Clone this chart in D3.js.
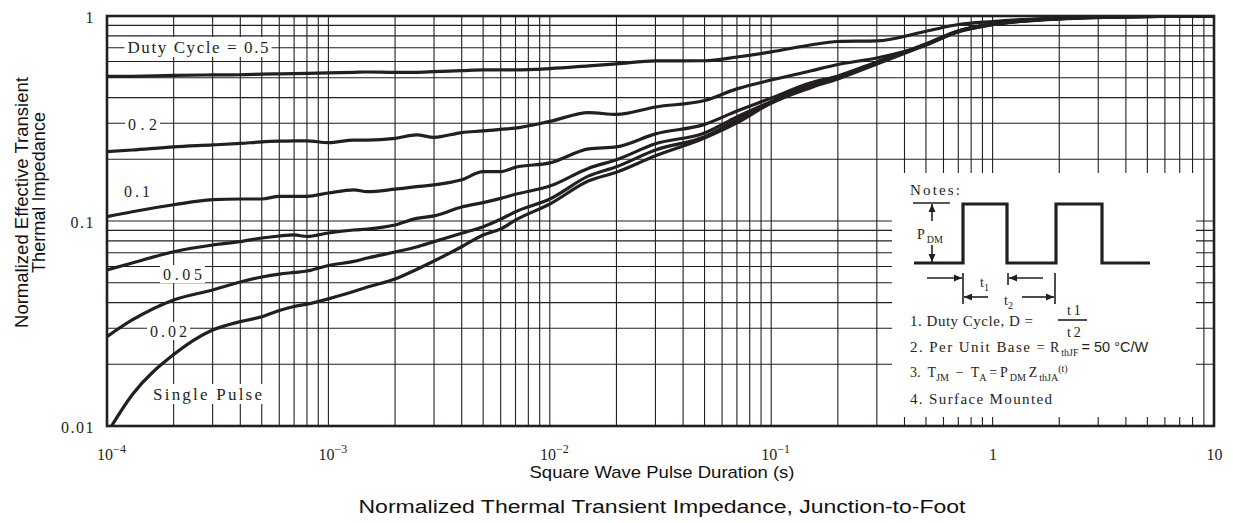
<!DOCTYPE html>
<html>
<head>
<meta charset="utf-8">
<script src="https://d3js.org/d3.v7.min.js"></script>
<style>
  body { margin: 0; background: #fff; }
  .grid line { stroke: #231f20; stroke-width: 1.1; }
  .curve { fill: none; stroke: #231f20; stroke-width: 3.2; stroke-linejoin: round; stroke-linecap: round; }
  .serif { font-family: "Liberation Serif", "DejaVu Serif", serif; fill: #231f20; }
  .sans { font-family: "Liberation Sans", Arial, sans-serif; fill: #111; }
  .axis path { display: none; }
</style>
</head>
<body>
<div id="chart"></div>
<script>
// pulse duration (s), shared by every curve
var pulseTimes = [1e-4, 1.3e-4, 2e-4, 3e-4, 4e-4, 5e-4, 6e-4, 7e-4, 8e-4, 1e-3,
  1.3e-3, 1.5e-3, 2e-3, 2.5e-3, 3e-3, 4e-3, 5e-3, 6e-3, 7e-3, 1e-2,
  1.5e-2, 2e-2, 3e-2, 5e-2, 7e-2, 0.1, 0.15, 0.2, 0.3, 0.5,
  0.7, 1, 2, 3, 10];

// normalized effective transient thermal impedance per duty cycle
var duty05 = [0.507, 0.508, 0.513, 0.516, 0.517, 0.520, 0.522, 0.523, 0.525, 0.528,
  0.531, 0.533, 0.531, 0.531, 0.535, 0.541, 0.546, 0.546, 0.546, 0.554,
  0.571, 0.584, 0.604, 0.605, 0.631, 0.668, 0.722, 0.751, 0.756, 0.843,
  0.909, 0.940, 0.978, 0.989, 1.0];
var duty02 = [0.218, 0.222, 0.230, 0.235, 0.239, 0.243, 0.245, 0.246, 0.246, 0.241,
  0.248, 0.248, 0.253, 0.263, 0.256, 0.270, 0.275, 0.280, 0.284, 0.306,
  0.338, 0.331, 0.360, 0.387, 0.441, 0.487, 0.539, 0.580, 0.624, 0.722,
  0.845, 0.919, 0.976, 0.987, 1.0];
var duty01 = [0.105, 0.111, 0.120, 0.127, 0.128, 0.128, 0.132, 0.132, 0.132, 0.137,
  0.142, 0.139, 0.143, 0.147, 0.150, 0.159, 0.174, 0.174, 0.183, 0.192,
  0.225, 0.230, 0.266, 0.296, 0.344, 0.398, 0.471, 0.510, 0.597, 0.730,
  0.845, 0.914, 0.971, 0.986, 1.0];
var duty005 = [0.0577, 0.0624, 0.0708, 0.0764, 0.0793, 0.0826, 0.0845, 0.0855, 0.0840, 0.0874,
  0.0904, 0.0914, 0.0956, 0.103, 0.106, 0.117, 0.123, 0.129, 0.135, 0.148,
  0.181, 0.199, 0.238, 0.269, 0.322, 0.383, 0.466, 0.504, 0.593, 0.730,
  0.845, 0.911, 0.970, 0.984, 1.0];
var duty002 = [0.0273, 0.0329, 0.0412, 0.0461, 0.0504, 0.0533, 0.0551, 0.0561, 0.0570, 0.0607,
  0.0635, 0.0660, 0.0706, 0.0747, 0.0793, 0.0871, 0.0938, 0.102, 0.111, 0.128,
  0.166, 0.184, 0.222, 0.258, 0.311, 0.376, 0.456, 0.504, 0.590, 0.726,
  0.840, 0.909, 0.969, 0.984, 1.0];
var singlePulse = [0.0092, 0.0142, 0.0223, 0.0294, 0.0323, 0.0341, 0.0366, 0.0383, 0.0393, 0.0417,
  0.0453, 0.0476, 0.0521, 0.0580, 0.0638, 0.0749, 0.0855, 0.0914, 0.101, 0.121,
  0.157, 0.173, 0.208, 0.254, 0.301, 0.376, 0.446, 0.493, 0.583, 0.722,
  0.836, 0.907, 0.968, 0.983, 1.0];

var seriesNames = ["Duty Cycle = 0.5", "0.2", "0.1", "0.05", "0.02", "Single Pulse"];
var seriesValues = [duty05, duty02, duty01, duty005, duty002, singlePulse];

var xTicks = [1e-4, 1e-3, 1e-2, 1e-1, 1, 10];
var xTickBase = ["10", "10", "10", "10", "1", "10"];
var xTickExp = ["\u22124", "\u22123", "\u22122", "\u22121", "", ""];
var yTicks = [0.01, 0.1, 1];
var yTickLabels = ["0.01", "0.1", "1"];

var width = 1233, height = 523;
var margin = {top: 16, right: 19, bottom: 97, left: 107};
var w = width - margin.left - margin.right,
    h = height - margin.top - margin.bottom;

var svg = d3.select("#chart").append("svg")
    .attr("width", width)
    .attr("height", height);

var g = svg.append("g")
    .attr("transform", "translate(" + margin.left + "," + margin.top + ")");

var x = d3.scaleLog().domain([1e-4, 10]).range([0, w]);
var y = d3.scaleLog().domain([0.01, 1]).range([h, 0]);

// grid
var grid = g.append("g").attr("class", "grid");
grid.selectAll(".vline")
    .data(x.ticks())
    .enter().append("line")
    .attr("class", "vline")
    .attr("x1", function(d) { return x(d); })
    .attr("x2", function(d) { return x(d); })
    .attr("y1", 0)
    .attr("y2", h);
grid.selectAll(".hline")
    .data(y.ticks())
    .enter().append("line")
    .attr("class", "hline")
    .attr("x1", 0)
    .attr("x2", w)
    .attr("y1", function(d) { return y(d); })
    .attr("y2", function(d) { return y(d); });

// clip for curves
svg.append("defs").append("clipPath").attr("id", "plotclip")
  .append("rect").attr("width", w).attr("height", h);

var line = d3.line()
    .x(function(d) { return x(d[0]); })
    .y(function(d) { return y(d[1]); })
    .curve(d3.curveMonotoneX);

g.append("g").attr("clip-path", "url(#plotclip)")
  .selectAll(".curve")
    .data(seriesValues)
    .enter().append("path")
    .attr("class", "curve")
    .attr("d", function(vals) {
        return line(vals.map(function(v, i) { return [pulseTimes[i], v]; }));
    });

// curve labels with white backing (pixel anchors: center x, baseline y, width, size)
var labelPos = [
    [91, 37, 141, 17],
    [35.5, 114, 29, 16],
    [30, 181, 26, 16],
    [75.5, 264, 39, 16],
    [61.5, 321, 37, 16],
    [100.5, 384, 109, 17]
];
var labels = g.append("g");
seriesNames.forEach(function(name, i) {
    var p = labelPos[i];
    var t = labels.append("text")
        .attr("class", "serif")
        .attr("x", p[0])
        .attr("y", p[1])
        .attr("text-anchor", "middle")
        .attr("font-size", p[3])
        .attr("textLength", p[2])
        .attr("lengthAdjust", "spacing")
        .text(name);
    var bb = t.node().getBBox();
    labels.insert("rect", function() { return t.node(); })
        .attr("x", p[0] - p[2] / 2 - 3)
        .attr("y", bb.y - 1)
        .attr("width", p[2] + 6)
        .attr("height", bb.height + 1)
        .attr("fill", "#fff");
});

// notes inset
var bx = 785, by = 157;
var notes = g.append("g").attr("transform", "translate(" + bx + "," + by + ")");
notes.append("rect").attr("width", 304).attr("height", 244).attr("fill", "#fff");

notes.append("text").attr("class", "serif").attr("x", 18).attr("y", 22)
    .attr("font-size", 15).attr("textLength", 50).text("Notes:");

notes.append("path")
    .attr("d", "M22,90H71V31H115V90H164V31H210V90H258")
    .attr("fill", "none").attr("stroke", "#231f20").attr("stroke-width", 3.2);

function seg(x1, y1, x2, y2) {
    notes.append("line").attr("x1", x1).attr("y1", y1).attr("x2", x2).attr("y2", y2)
        .attr("stroke", "#231f20").attr("stroke-width", 1.6);
}
function arrow(x1, y1, x2, y2) {
    var a = Math.atan2(y2 - y1, x2 - x1), L = 8, W = 3.5;
    seg(x1, y1, x2, y2);
    var bxp = x2 - L * Math.cos(a), byp = y2 - L * Math.sin(a);
    notes.append("path")
        .attr("d", "M" + x2 + "," + y2 +
            "L" + (bxp + W * Math.sin(a)) + "," + (byp - W * Math.cos(a)) +
            "L" + (bxp - W * Math.sin(a)) + "," + (byp + W * Math.cos(a)) + "Z")
        .attr("fill", "#231f20");
}
seg(21, 30, 58, 30);
arrow(40, 48, 40, 31);
arrow(40, 72, 40, 89);
arrow(35, 105, 70, 105);
seg(71, 100, 71, 131);
seg(116, 100, 116, 112);
arrow(151, 105, 117, 105);
arrow(96, 124, 72, 124);
arrow(130, 124, 162, 124);
seg(163, 100, 163, 131);

// text run made of [string, kind] parts: kind "" main, "sub", "sup", "sans"
function richText(xp, yp, parts) {
    var t = notes.append("text").attr("class", "serif").attr("x", xp).attr("y", yp)
        .attr("font-size", 14);
    var shift = 0;
    parts.forEach(function(p) {
        var target = p[1] === "sub" ? 4 : (p[1] === "sup" ? -5 : 0);
        var s = t.append("tspan").attr("dy", target - shift).text(p[0]);
        if (p[1] === "sub" || p[1] === "sup") s.attr("font-size", 10);
        if (p[1] === "sans") s.attr("font-family", "Liberation Sans, Arial, sans-serif").attr("font-size", 14.5);
        shift = target;
    });
    return t;
}
richText(25, 66, [["P", ""], ["\u2009DM", "sub"]]);
richText(88, 114, [["t", ""], ["1", "sub"]]);
richText(112, 132, [["t", ""], ["2", "sub"]]);

notes.append("text").attr("class", "serif").attr("x", 18).attr("y", 153)
    .attr("font-size", 15).attr("textLength", 123).text("1. Duty Cycle, D =");
richText(175, 142, [["t\u20091", ""]]);
seg(166, 147, 195, 147);
richText(175, 164, [["t\u20092", ""]]);

notes.append("text").attr("class", "serif").attr("x", 18).attr("y", 179)
    .attr("font-size", 15).attr("textLength", 135).text("2. Per Unit Base =");
richText(158, 179, [["R", ""], ["\u2009thJF", "sub"], ["\u2009= 50 \u00B0C/W", "sans"]]);

richText(18, 204, [["3.\u2002T", ""], ["JM", "sub"], ["\u2002\u2212\u2002T", ""], ["A", "sub"],
    ["\u2009=\u2009P", ""], ["\u2009DM", "sub"], ["\u2009Z", ""], ["\u2009thJA", "sub"], ["(t)", "sup"]]);

notes.append("text").attr("class", "serif").attr("x", 18).attr("y", 231)
    .attr("font-size", 15).attr("textLength", 142).text("4. Surface Mounted");

// border
g.append("rect").attr("width", w).attr("height", h)
    .attr("fill", "none").attr("stroke", "#231f20").attr("stroke-width", 2.6);

// axes
var xAxis = g.append("g")
    .attr("class", "axis")
    .attr("transform", "translate(0," + h + ")")
    .call(d3.axisBottom(x).tickValues(xTicks).tickSize(0).tickPadding(0).tickFormat(""));
xAxis.selectAll(".tick text").remove();
xAxis.selectAll(".tick").each(function(d, i) {
    var t = d3.select(this).append("text")
        .attr("class", "serif")
        .attr("y", 34)
        .attr("x", xTickExp[i] ? 4 : 0)
        .attr("text-anchor", "middle")
        .attr("font-size", 16)
        .attr("fill", "#231f20")
        .text(xTickBase[i]);
    if (xTickExp[i]) {
        t.append("tspan").attr("dy", -7).attr("font-size", 12).text(xTickExp[i]);
    }
});

var yAxis = g.append("g")
    .attr("class", "axis")
    .call(d3.axisLeft(y).tickValues(yTicks).tickSize(0).tickPadding(12)
        .tickFormat(function(d, i) { return yTickLabels[i]; }));
yAxis.selectAll(".tick text")
    .attr("class", "serif")
    .attr("font-size", 16)
    .attr("fill", "#231f20")
    .attr("letter-spacing", 1.5)
    .attr("dy", "0.4em");

// titles
svg.append("text").attr("class", "sans")
    .attr("transform", "translate(28,202.5) rotate(-90)")
    .attr("text-anchor", "middle").attr("font-size", 18)
    .attr("textLength", 251).attr("lengthAdjust", "spacingAndGlyphs")
    .text("Normalized Effective Transient");
svg.append("text").attr("class", "sans")
    .attr("transform", "translate(45,192.5) rotate(-90)")
    .attr("text-anchor", "middle").attr("font-size", 18)
    .attr("textLength", 161).attr("lengthAdjust", "spacingAndGlyphs")
    .text("Thermal Impedance");
svg.append("text").attr("class", "sans")
    .attr("x", 662).attr("y", 478)
    .attr("text-anchor", "middle").attr("font-size", 17)
    .attr("textLength", 265).attr("lengthAdjust", "spacingAndGlyphs")
    .text("Square Wave Pulse Duration (s)");
svg.append("text").attr("class", "sans")
    .attr("x", 662).attr("y", 513)
    .attr("text-anchor", "middle").attr("font-size", 18)
    .attr("textLength", 607).attr("lengthAdjust", "spacingAndGlyphs")
    .text("Normalized Thermal Transient Impedance, Junction-to-Foot");
</script>
</body>
</html>
